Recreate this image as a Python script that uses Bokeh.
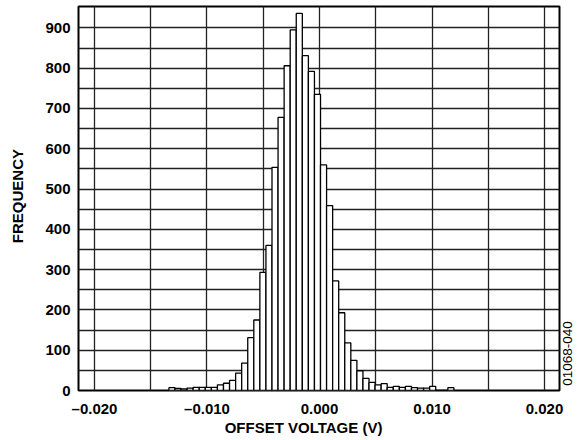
from math import pi
from bokeh.plotting import figure
from bokeh.models import (Range1d, FixedTicker, CustomJSTickFormatter, Label,
                          ColumnDataSource)
from bokeh.embed import file_html
from bokeh.resources import INLINE

# ---- data ----
bin_start = -0.013385      # left edge of first histogram bin (V)
bin_width = 0.000539       # histogram bin width (V)
counts = [7, 5, 4, 6, 8, 8, 8, 8, 14, 18, 25, 43, 68, 131, 175, 293, 360,
          554, 678, 806, 895, 936, 831, 792, 735, 560, 459, 272, 193, 118,
          75, 49, 30, 20, 14, 17, 8, 10, 8, 10, 7, 6, 6, 10, 0, 0, 7]
x_ticks = [-0.020, -0.010, 0.000, 0.010, 0.020]
x_grid = [-0.020, -0.015, -0.010, -0.005, 0.000, 0.005, 0.010, 0.015, 0.020]
y_ticks = [0, 100, 200, 300, 400, 500, 600, 700, 800, 900]
y_grid = [0, 50, 100, 150, 200, 250, 300, 350, 400, 450, 500, 550, 600,
          650, 700, 750, 800, 850, 900]
x_title = "OFFSET VOLTAGE (V)"
y_title = "FREQUENCY"
figure_id = "01068-040"

centers = [bin_start + (i + 0.5) * bin_width for i in range(len(counts))]
src = ColumnDataSource(dict(x=centers, top=counts))

FONT = "Liberation Sans"

p = figure(width=579, height=440, output_backend="svg", toolbar_location=None,
           x_range=Range1d(-0.021422, 0.021333), y_range=Range1d(0, 953.1),
           min_border_left=78, min_border_right=20, min_border_top=6,
           min_border_bottom=50)
p.background_fill_color = "white"
p.border_fill_color = "white"
p.outline_line_color = "black"
p.outline_line_width = 2

p.vbar(x="x", top="top", width=bin_width, bottom=0, source=src,
       fill_color="white", line_color="black", line_width=1.3)

# grids
p.xgrid.ticker = FixedTicker(ticks=x_grid)
p.ygrid.ticker = FixedTicker(ticks=y_grid)
for g in (p.xgrid, p.ygrid):
    g.grid_line_color = "#222222"
    g.grid_line_width = 1.3

# axes (tick labels only; titles are placed as labels in the side panels)
for ax in (p.xaxis, p.yaxis):
    ax.axis_line_color = None
    ax.major_tick_line_color = None
    ax.minor_tick_line_color = None
    ax.major_tick_in = 0
    ax.major_tick_out = 0
    ax.major_label_text_font = FONT
    ax.major_label_text_font_style = "bold"
    ax.major_label_text_font_size = "15px"
    ax.major_label_text_color = "black"

p.xaxis.ticker = FixedTicker(ticks=x_ticks)
p.xaxis.formatter = CustomJSTickFormatter(
    code="return (tick < -1e-12 ? '\u2013' : '') + Math.abs(tick).toFixed(3);")
p.xaxis.major_label_standoff = 9

p.yaxis.ticker = FixedTicker(ticks=y_ticks)
p.yaxis.major_label_standoff = 8

title_style = dict(text_font=FONT, text_font_style="bold",
                   text_font_size="15px", text_color="black",
                   text_align="center", text_baseline="middle")

p.add_layout(Label(x=-0.00142, y=-90.8, text=x_title, **title_style), "below")
p.add_layout(Label(x=-0.02684, y=482.5, text=y_title, angle=pi / 2,
                   **title_style), "left")
p.add_layout(Label(x=0.02204, y=91.6, text=figure_id, angle=pi / 2,
                   text_align="center", text_baseline="middle",
                   text_font=FONT, text_font_size="13.5px",
                   text_color="black"), "right")

open("out.html", "w").write(file_html(p, INLINE))
